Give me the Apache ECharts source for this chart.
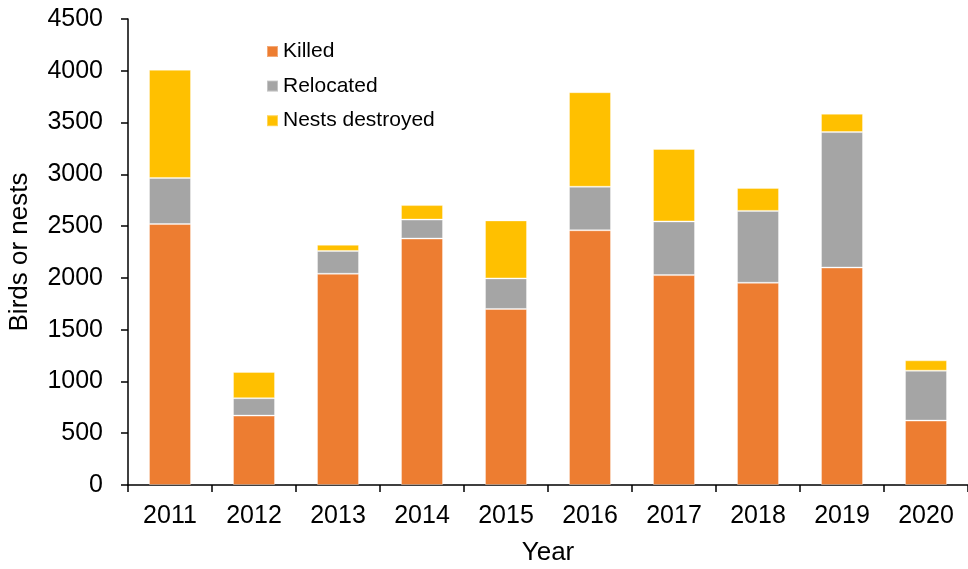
<!DOCTYPE html>
<html>
<head>
<meta charset="utf-8">
<script src="https://cdn.jsdelivr.net/npm/echarts@6/dist/echarts.min.js"></script>
<style>html,body{margin:0;padding:0;background:#fff;}#chart{width:968px;height:569px;}</style>
</head>
<body>
<div id="chart"></div>
<script>
var years = ['2011','2012','2013','2014','2015','2016','2017','2018','2019','2020'];
var killed = [2520, 670, 2040, 2380, 1700, 2460, 2027, 1953, 2100, 622];
var relocated = [445, 168, 220, 183, 295, 420, 518, 694, 1308, 482];
var nestsDestroyed = [1045, 254, 60, 140, 560, 913, 700, 222, 177, 100];

var font = 'Liberation Sans, Arial, sans-serif';
var chart = echarts.init(document.getElementById('chart'));
function series(name, data, color) {
  return {
    name: name, type: 'bar', stack: 'total', data: data,
    barCategoryGap: '50%',
    itemStyle: { color: color, borderColor: 'rgba(255,255,255,0.35)', borderWidth: 1 },
    emphasis: { disabled: true }
  };
}
chart.setOption({
  animation: false,
  grid: { left: 128, right: 0, top: 19, bottom: 84, containLabel: false, outerBoundsMode: 'none' },
  legend: {
    orient: 'vertical', left: 266, top: 41, padding: 0,
    itemWidth: 11, itemHeight: 11, itemGap: 13.6,
    icon: 'rect',
    textStyle: { fontFamily: font, fontSize: 21, color: '#000', lineHeight: 21 },
    data: ['Killed', 'Relocated', 'Nests destroyed']
  },
  xAxis: {
    type: 'category', data: years,
    name: 'Year', nameLocation: 'middle', nameGap: 55,
    nameTextStyle: { fontFamily: font, fontSize: 26, color: '#000' },
    axisLine: { lineStyle: { color: '#000', width: 1.5 } },
    axisTick: { show: true, alignWithLabel: false, length: 7, lineStyle: { color: '#000', width: 1.5 } },
    axisLabel: { fontFamily: font, fontSize: 25, color: '#000', margin: 19 }
  },
  yAxis: {
    type: 'value', min: 0, max: 4500, interval: 500,
    name: 'Birds or nests', nameLocation: 'middle', nameGap: 95, nameRotate: 90,
    nameTextStyle: { fontFamily: font, fontSize: 26, color: '#000' },
    axisLine: { show: true, lineStyle: { color: '#000', width: 1.5 } },
    axisTick: { show: true, length: 7, lineStyle: { color: '#000', width: 1.5 } },
    axisLabel: { fontFamily: font, fontSize: 25, color: '#000', margin: 25, formatter: function (v) { return String(v); } },
    splitLine: { show: false }
  },
  series: [
    series('Killed', killed, '#ED7D31'),
    series('Relocated', relocated, '#A5A5A5'),
    series('Nests destroyed', nestsDestroyed, '#FFC000')
  ]
});
</script>
</body>
</html>
